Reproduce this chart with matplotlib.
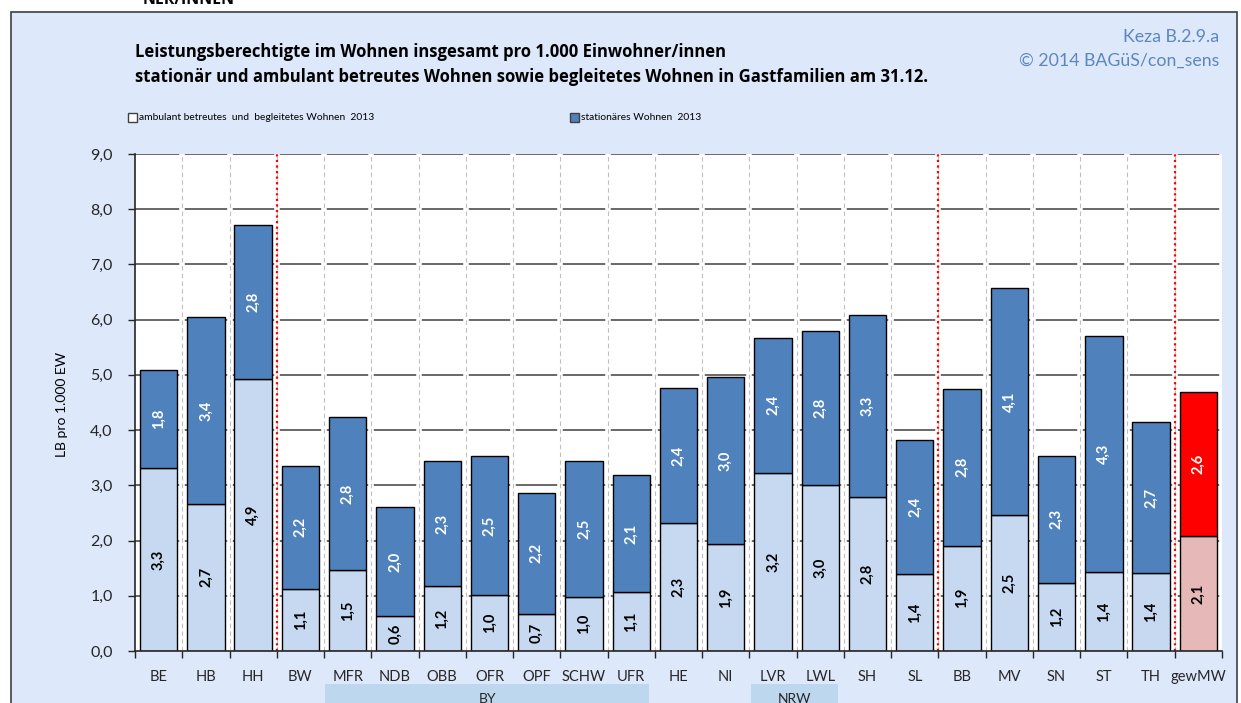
#!/usr/bin/python3

import matplotlib
matplotlib.use("Agg")
import matplotlib.pyplot as plt
from matplotlib.patches import Rectangle
from matplotlib.ticker import FixedLocator, FuncFormatter

plt.rcParams['font.family'] = ['Lato', 'DejaVu Sans']

# --- data ---
categories = ["BE", "HB", "HH", "BW", "MFR", "NDB", "OBB", "OFR", "OPF",
              "SCHW", "UFR", "HE", "NI", "LVR", "LWL", "SH", "SL", "BB",
              "MV", "SN", "ST", "TH", "gewMW"]
ambulant = [3.32, 2.67, 4.93, 1.13, 1.46, 0.63, 1.18, 1.01, 0.67, 0.97, 1.07,
            2.32, 1.94, 3.23, 3.00, 2.78, 1.39, 1.91, 2.46, 1.24, 1.43, 1.42,
            2.08]
stationaer = [1.76, 3.37, 2.79, 2.22, 2.77, 1.97, 2.26, 2.52, 2.20, 2.47, 2.12,
              2.44, 3.02, 2.44, 2.80, 3.31, 2.43, 2.84, 4.11, 2.29, 4.28, 2.72,
              2.61]
separators_after = ["HH", "SL", "TH"]
groups = [("BY", "MFR", "UFR"), ("NRW", "LVR", "LWL")]

legend_labels = ["ambulant betreutes  und  begleitetes Wohnen  2013",
                 "stationäres Wohnen  2013"]
title_lines = ["Leistungsberechtigte im Wohnen insgesamt pro 1.000 Einwohner/innen",
               "stationär und ambulant betreutes Wohnen sowie begleitetes Wohnen in Gastfamilien am 31.12."]
source_lines = ["Keza B.2.9.a", "© 2014 BAGüS/con_sens"]
y_label = "LB pro 1.000 EW"
cut_heading = "NER/INNEN"

W, H = 1241, 703
LIGHT = "#C6D9F1"
DARK = "#4F81BD"
MW_LIGHT = "#E6B9B8"
MW_DARK = "#FF0000"
FRAME_BG = "#DDE8FB"
BAND = "#BDD7EE"
TITLE_FONT = ['Open Sans', 'DejaVu Sans']


def fx(px: float) -> float:
    return px / W


def fy(py: float) -> float:
    return 1 - py / H


def comma(v: float, pos=None) -> str:
    return f"{v:.1f}".replace(".", ",")


def main():
    fig = plt.figure(figsize=(W / 100, H / 100), dpi=100)
    fig.patch.set_facecolor("white")

    # outer frame
    fig.patches.append(Rectangle((fx(11), fy(720)), fx(1237) - fx(11),
                                 fy(12) - fy(720), transform=fig.transFigure,
                                 facecolor=FRAME_BG, edgecolor="#404040",
                                 lw=1.2, zorder=-10))
    fig.text(fx(143), fy(4.5), cut_heading, fontsize=11.5, fontweight="bold",
             va="baseline", ha="left", family=TITLE_FONT)

    # titles
    fig.text(fx(135), fy(52), title_lines[0], fontsize=12, fontweight="bold",
             va="center", ha="left", family=TITLE_FONT)
    fig.text(fx(135), fy(77), title_lines[1], fontsize=12, fontweight="bold",
             va="center", ha="left", family=TITLE_FONT)
    fig.text(fx(1219), fy(37), source_lines[0], fontsize=12.8, color="#5B87C0",
             va="center", ha="right")
    fig.text(fx(1219), fy(61), source_lines[1], fontsize=12.8, color="#5B87C0",
             va="center", ha="right")

    # legend
    for x0, face, lab in [(128, "white", legend_labels[0]),
                          (570, DARK, legend_labels[1])]:
        fig.patches.append(Rectangle((fx(x0), fy(122)), fx(9), 9 / H,
                                     transform=fig.transFigure, facecolor=face,
                                     edgecolor="#404040", lw=1, zorder=-5))
        fig.text(fx(x0 + 11), fy(117), lab, fontsize=7.4, va="center",
                 ha="left")

    fig.text(fx(62), fy(404), y_label, fontsize=10, rotation=90,
             va="center", ha="center")

    ax = fig.add_axes([fx(135), fy(651), fx(1222) - fx(135), fy(154) - fy(651)])
    ax.set_facecolor("white")
    n = len(categories)
    x = list(range(n))
    ax.set_xlim(-0.5, n - 0.5)
    ax.set_ylim(0, 9)

    # grid
    for yv in range(1, 10):
        ax.axhline(yv, color="#404040", lw=1.1, zorder=1)
    for k in range(n):
        ax.axvline(k + 0.5, color="white", lw=4, zorder=1.5)
        ax.axvline(k + 0.5, color="#BFBFBF", lw=0.8, ls=(0, (4, 3)), zorder=1.6)
    for name in separators_after:
        ax.axvline(categories.index(name) + 0.5, color="#FF0000", lw=1.6,
                   ls=(0, (1, 1.5)), zorder=1.7)

    light_colors = [LIGHT] * (n - 1) + [MW_LIGHT]
    dark_colors = [DARK] * (n - 1) + [MW_DARK]
    ax.bar(x, ambulant, width=0.79, color=light_colors, edgecolor="black",
           lw=1, zorder=3)
    ax.bar(x, stationaer, width=0.79, bottom=ambulant, color=dark_colors,
           edgecolor="black", lw=1, zorder=3)

    for i in x:
        ax.text(i, ambulant[i] / 2, comma(ambulant[i]), rotation=90,
                ha="center", va="center", fontsize=10.5, fontweight="bold",
                color="black", zorder=4)
        ax.text(i, ambulant[i] + stationaer[i] / 2, comma(stationaer[i]),
                rotation=90, ha="center", va="center", fontsize=10.5,
                fontweight="bold", color="white", zorder=4)

    for side in ["top", "right"]:
        ax.spines[side].set_visible(False)
    for side in ["left", "bottom"]:
        ax.spines[side].set_color("#262626")
        ax.spines[side].set_linewidth(1.2)
        ax.spines[side].set_zorder(5)

    ax.yaxis.set_major_locator(FixedLocator(range(0, 10)))
    ax.yaxis.set_major_formatter(FuncFormatter(comma))
    ax.tick_params(axis="y", direction="out", length=5, width=1,
                   colors="#262626", labelsize=11.5, pad=11)

    ax.xaxis.set_major_locator(FixedLocator([k + 0.5 for k in range(-1, n)]))
    ax.xaxis.set_major_formatter(FuncFormatter(lambda v, p: ""))
    ax.xaxis.set_minor_locator(FixedLocator(x))
    ax.set_xticklabels(categories, minor=True)
    ax.tick_params(axis="x", which="major", direction="out", length=5,
                   width=1, colors="#262626")
    ax.tick_params(axis="x", which="minor", length=0, labelsize=10.5, pad=14,
                   labelcolor="#262626")

    # group bands below the category labels
    for label, first, last in groups:
        x0 = categories.index(first) - 0.47
        x1 = categories.index(last) + 0.38
        px0 = 135 + (x0 + 0.5) * (1087 / n)
        px1 = 135 + (x1 + 0.5) * (1087 / n)
        fig.patches.append(Rectangle((fx(px0), fy(720)), fx(px1 - px0),
                                     fy(684) - fy(720),
                                     transform=fig.transFigure,
                                     facecolor=BAND, edgecolor="none",
                                     zorder=-5))
        fig.text(fx((px0 + px1) / 2), fy(693), label, fontsize=10,
                 ha="center", va="top", color="#262626")

    plt.savefig("out.png", dpi=100)


if __name__ == "__main__":
    main()
